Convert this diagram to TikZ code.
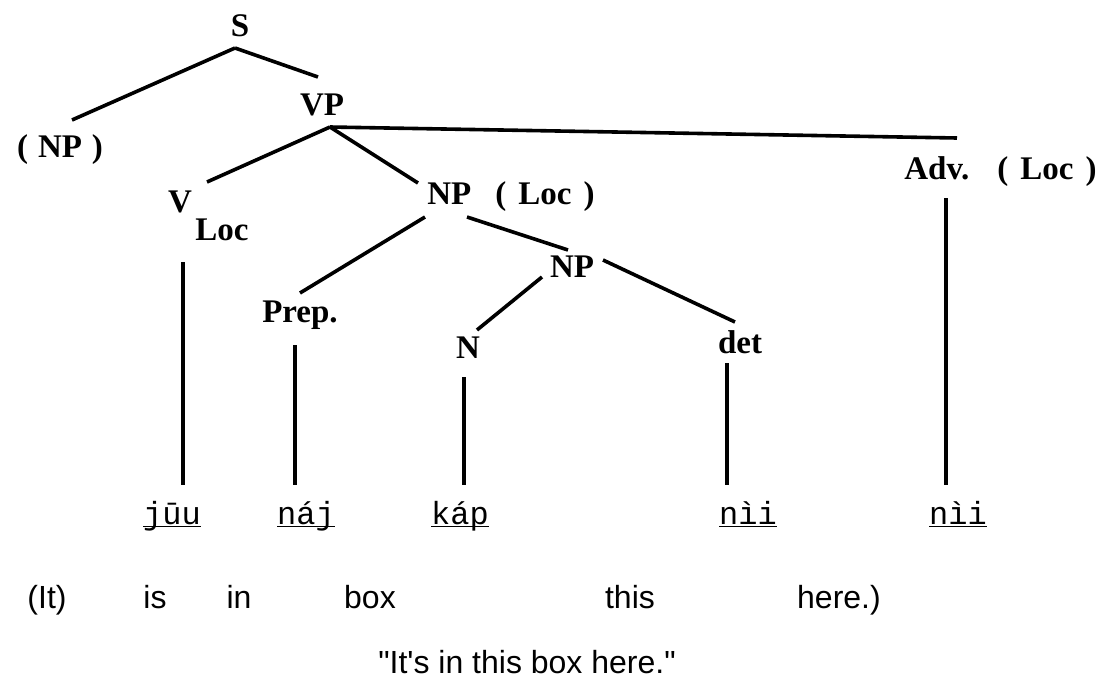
\documentclass[tikz,border=0pt]{standalone}
\usepackage{fontspec}
\setmainfont{Liberation Serif}
\newfontfamily\wordfont{Liberation Mono}
\newfontfamily\glossfont{Liberation Sans}
\newcommand\uw[1]{\underline{\smash{#1}}}
\begin{document}
\begin{tikzpicture}[x=0.5pt, y=-0.5pt,
  cat/.style={font=\fontsize{16.5}{18}\selectfont\bfseries, inner sep=0pt},
  word/.style={font=\wordfont\fontsize{16}{18}\selectfont, inner sep=0pt, anchor=base, text height=19.5pt},
  gloss/.style={font=\glossfont\fontsize{16}{18}\selectfont, inner sep=0pt, anchor=base},
  branch/.style={line width=1.8pt}]
\useasboundingbox (0,0) rectangle (1100,681);

\node[cat] (s) at (240,26) {S};
\node[cat] (np0) at (60,150) {(\hspace{5pt}NP\hspace{5pt})};
\node[cat] (vp) at (322,105) {VP};
\node[cat] (v) at (180,202) {V};
\node[cat] (vsub) at (222,230) {Loc};
\node[cat, anchor=west] (npl) at (427,197) {NP\hspace{12pt}(\hspace{6pt}Loc\hspace{6pt})};
\node[cat, anchor=east] (adv) at (1097,172) {Adv.\hspace{14pt}(\hspace{6pt}Loc\hspace{6pt})};
\node[cat] (np1) at (572,267) {NP};
\node[cat] (prep) at (300,315) {Prep.};
\node[cat] (n) at (468,348) {N};
\node[cat] (det) at (740,342) {det};

\coordinate (s-b) at (235,48);
\coordinate (np0-t) at (72,120);
\coordinate (vp-t) at (318,77);
\coordinate (vp-b) at (330,127);
\coordinate (v-t) at (207,182);
\coordinate (npl-t) at (418,183);
\coordinate (adv-t) at (957,138);
\coordinate (npl-bl) at (425,217);
\coordinate (npl-br) at (467,217);
\coordinate (prep-t) at (300,293);
\coordinate (np1-t) at (568,250);
\coordinate (np1-bl) at (542,277);
\coordinate (np1-br) at (603,260);
\coordinate (n-t) at (477,330);
\coordinate (det-t) at (735,322);
\coordinate (v-b) at (183,262);
\coordinate (prep-b) at (295,345);
\coordinate (n-b) at (464,377);
\coordinate (det-b) at (727,363);
\coordinate (adv-b) at (946,198);

\node[word] (w1) at (172,524) {\uw{jūu}};
\node[word] (w2) at (306,524) {\uw{náj}};
\node[word] (w3) at (460,524) {\uw{káp}};
\node[word] (w4) at (748,524) {\uw{nìi}};
\node[word] (w5) at (958,524) {\uw{nìi}};

\node[gloss] (g1) at (47,608) {(It)};
\node[gloss] (g2) at (155,608) {is};
\node[gloss] (g3) at (239,608) {in};
\node[gloss] (g4) at (370,608) {box};
\node[gloss] (g5) at (630,608) {this};
\node[gloss] (g6) at (839,608) {here.)};
\node[gloss] (tr) at (527,673) {"It's in this box here."};

\draw[branch] (s-b) -- (np0-t);
\draw[branch] (s-b) -- (vp-t);
\draw[branch] (vp-b) -- (v-t);
\draw[branch] (vp-b) -- (npl-t);
\draw[branch] (vp-b) -- (adv-t);
\draw[branch] (npl-bl) -- (prep-t);
\draw[branch] (npl-br) -- (np1-t);
\draw[branch] (np1-bl) -- (n-t);
\draw[branch] (np1-br) -- (det-t);

\draw[branch] (v-b) -- (v-b |- w1.north);
\draw[branch] (prep-b) -- (prep-b |- w2.north);
\draw[branch] (n-b) -- (n-b |- w3.north);
\draw[branch] (det-b) -- (det-b |- w4.north);
\draw[branch] (adv-b) -- (adv-b |- w5.north);
\end{tikzpicture}
\end{document}
